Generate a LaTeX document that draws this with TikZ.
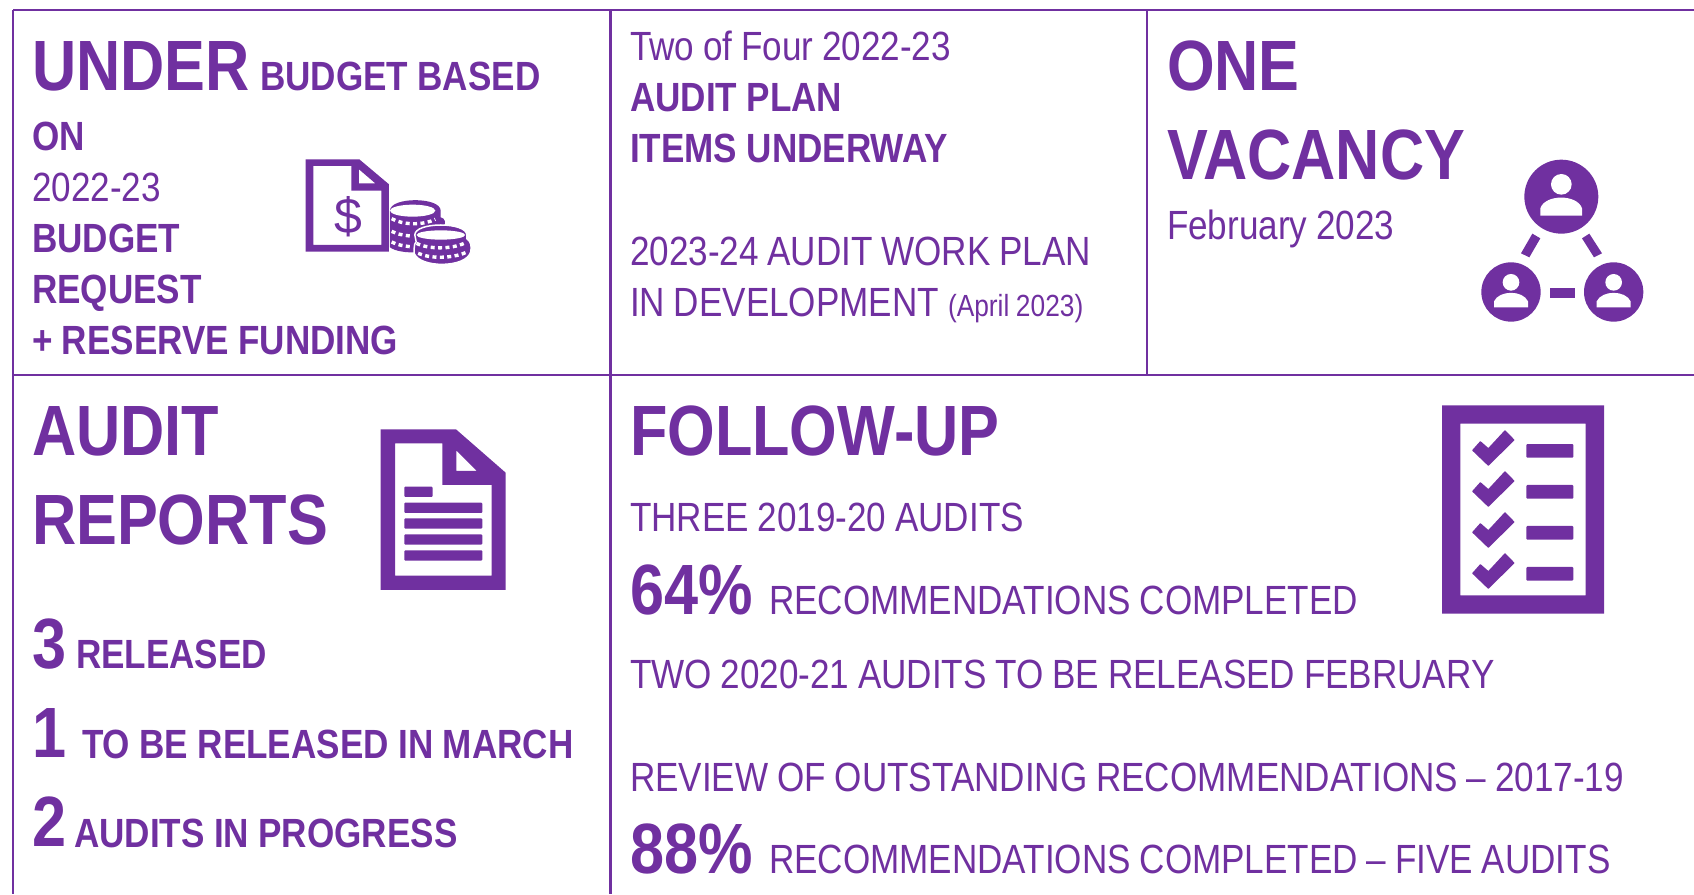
\documentclass[tikz,border=0pt]{standalone}
\usepackage{fontspec}
\setmainfont[FakeStretch=0.86,UprightFeatures={WordSpace=0.9},BoldFeatures={WordSpace=0.97}]{Liberation Sans}
\definecolor{pur}{HTML}{7030A0}
\newcommand{\fz}[1]{\fontsize{#1}{#1}\selectfont}
\tikzset{
 txt/.style={anchor=base west,inner sep=0pt,outer sep=0pt,text=pur},
 big/.style={txt,font=\fz{71.2}\bfseries},
 bd/.style={txt,font=\fz{40.8}\bfseries},
 rg/.style={txt,font=\fz{40.8}},
 sm/.style={txt,font=\fz{30.6}},
 gridline/.style={draw=pur,line width=2.2pt},
 iconfill/.style={fill=pur,even odd rule},
 coinrim/.style={draw=white,line width=3.4pt,dash pattern=on 4pt off 3.4pt},
}
\begin{document}
\begin{tikzpicture}[x=1pt,y=-1pt]
\useasboundingbox (0,0) rectangle (1694,894);
% grid
\draw[gridline] (13,10) -- (1694,10);
\draw[gridline] (13,375) -- (1694,375);
\draw[gridline] (13,10) -- (13,894);
\draw[gridline] (610.5,10) -- (610.5,894);
\draw[gridline] (1147,10) -- (1147,375);
% cell 1
\node[big] (t1) at (32,90) {UNDER};
\node[bd] (t2) at (260,90) {BUDGET BASED};
\node[bd] (t3) at (32,150) {ON};
\node[rg] (t4) at (32,201) {2022-23};
\node[bd] (t5) at (32,252) {BUDGET};
\node[bd] (t6) at (32,303) {REQUEST};
\node[bd] (t7) at (32,354) {+ RESERVE FUNDING};
% cell 2
\node[rg] (m1) at (630,60) {Two of Four 2022-23};
\node[bd] (m2) at (630,111) {AUDIT PLAN};
\node[bd] (m3) at (630,162) {ITEMS UNDERWAY};
\node[rg] (m4) at (630,265) {2023-24 AUDIT WORK PLAN};
\node[rg] (m5) at (630,316) {IN DEVELOPMENT};
\node[sm] (m6) at (948,316) {(April 2023)};
% cell 3
\node[big] (v1) at (1167,90) {ONE};
\node[big] (v2) at (1167,179) {VACANCY};
\node[rg] (v3) at (1167,239) {February 2023};
% cell 4
\node[big] (a1) at (32,455) {AUDIT};
\node[big] (a2) at (32,544) {REPORTS};
\node[big] (a3) at (32,668) {3};
\node[bd] (a4) at (76,668) {RELEASED};
\node[big] (a5) at (32,757) {1};
\node[bd] (a6) at (82,758) {TO BE RELEASED IN MARCH};
\node[big] (a7) at (32,846) {2};
\node[bd] (a8) at (74,847) {AUDITS IN PROGRESS};
% cell 5
\node[big] (f1) at (630,455) {FOLLOW-UP};
\node[rg] (f2) at (630,531) {THREE 2019-20 AUDITS};
\node[big] (f3) at (630,614) {64\%};
\node[rg] (f4) at (769,614) {RECOMMENDATIONS COMPLETED};
\node[rg] (f5) at (630,688) {TWO 2020-21 AUDITS TO BE RELEASED FEBRUARY};
\node[rg] (f6) at (630,791) {REVIEW OF OUTSTANDING RECOMMENDATIONS -- 2017-19};
\node[big] (f7) at (630,873) {88\%};
\node[rg] (f8) at (769,873) {RECOMMENDATIONS COMPLETED -- FIVE AUDITS};
% budget icon
\begin{scope}[shift={(280,140)},x=0.3333pt,y=-0.3333pt]
\fill[iconfill] (77,58) -- (238,58) -- (327,133) -- (327,335) -- (77,335) -- cycle
 (100,78) -- (214,78) -- (214,152) -- (304,152) -- (304,315) -- (100,315) -- cycle
 (237,88) -- (286,130) -- (237,130) -- cycle;
\node[inner sep=0pt,text=pur,font=\fontspec{Liberation Sans}\fz{50}] (dollar) at (204,230) {\$};
% back stack
\fill[pur] (330,212) .. controls (330,170) and (482,170) .. (482,212)
 -- (482,232) .. controls (497,235) and (497,250) .. (492,258)
 -- (492,300) .. controls (470,345) and (360,345) .. (330,322) -- cycle;
\fill[white] (398,212) ellipse [x radius=68,y radius=18];
\draw[coinrim] (335,236) .. controls (370,256) and (430,256) .. (466,238);
\draw[coinrim] (335,274) .. controls (350,282) and (370,286) .. (390,288);
\draw[coinrim] (335,306) .. controls (350,314) and (370,318) .. (390,320);
% front stack
\begin{scope}[xshift=1.5pt]
\fill[pur,draw=white,line width=1.5pt] (400,285) .. controls (400,245) and (556,245) .. (556,285)
 -- (556,296) .. controls (570,305) and (570,320) .. (568,335)
 .. controls (555,385) and (415,385) .. (398,340)
 -- (398,325) .. controls (398,315) and (400,310) .. (404,305) -- cycle;
\fill[white] (478,285) ellipse [x radius=73,y radius=14];
\draw[coinrim] (405,310) .. controls (440,328) and (510,328) .. (548,310);
\draw[coinrim] (410,340) .. controls (445,356) and (510,356) .. (552,338);
\end{scope}
\end{scope}
% network icon
\begin{scope}[shift={(1460,140)},x=0.3333pt,y=-0.3333pt]
\fill[pur] (304,170) circle [radius=111];
\fill[pur] (153,456) circle [radius=89];
\fill[pur] (461,456) circle [radius=89];
\fill[white] (304,133) circle [radius=31];
\fill[white] (241,227) -- (241,205) .. controls (255,162) and (352,162) .. (366,205) -- (366,227) -- cycle;
\foreach \cx in {153,461}{
 \fill[white] (\cx,427) circle [radius=25];
 \fill[white] (\cx-51,502) -- (\cx-51,484) .. controls (\cx-35,450) and (\cx+35,450) .. (\cx+51,484) -- (\cx+51,502) -- cycle;
}
\fill[pur] (271,445) rectangle (344,473);
\fill[pur] (217,281) -- (241,295) -- (208,352) -- (183,340) -- cycle;
\fill[pur] (366,295) -- (388,281) -- (426,340) -- (402,352) -- cycle;
\end{scope}
% report icon
\begin{scope}[shift={(360,411)},x=0.3333pt,y=-0.3333pt]
\fill[iconfill] (62,55) -- (288,55) -- (437,185) -- (437,537) -- (62,537) -- cycle
 (105,97) -- (247,97) -- (247,222) -- (395,222) -- (395,494) -- (105,494) -- cycle
 (289,118) -- (351,180) -- (289,180) -- cycle;
\fill[pur,rounded corners=1pt] (133,227) rectangle (218,258);
\foreach \yy in {275,322,370,418}{
 \fill[pur,rounded corners=1pt] (133,\yy) rectangle (367,\yy+31);
}
\end{scope}
% checklist icon
\begin{scope}[shift={(1420,391)},x=0.3333pt,y=-0.3333pt]
\fill[iconfill] (66,43) rectangle (552,668) (121,98) rectangle (497,613);
\foreach \dy in {0,123,246,369}{
 \fill[pur,rounded corners=1pt] (319,159+\dy) rectangle (460,200+\dy);
 \fill[pur,rounded corners=0.5pt] (156,178+\dy) -- (181,150+\dy) -- (205,171+\dy) -- (255,117+\dy) -- (284,147+\dy) -- (205,225+\dy) -- cycle;
}
\end{scope}
\end{tikzpicture}
\end{document}
